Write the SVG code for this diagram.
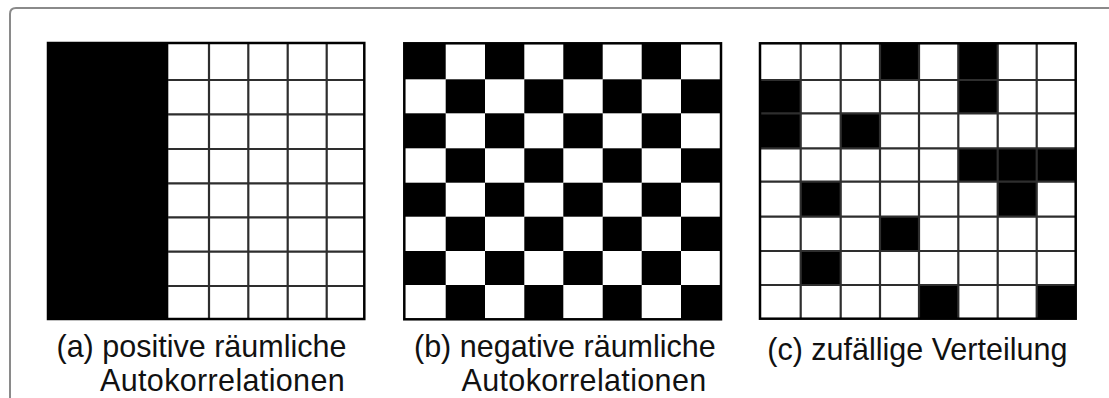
<svg xmlns="http://www.w3.org/2000/svg" width="1109" height="398" viewBox="0 0 1109 398">
  <style>
    .frame { fill: none; stroke: #8a8a8a; stroke-width: 2; }
    .cell { fill: #000; }
    .grid { fill: none; stroke: #2e2e2e; stroke-width: 2.2; }
    .border { fill: none; stroke: #000; stroke-width: 2.5; }
    .label { font-family: "Liberation Sans", Arial, sans-serif; font-size: 30.5px; fill: #111; }
    .wide { letter-spacing: 0.35px; }
  </style>
  <rect width="1109" height="398" fill="#fff"/>
  <!-- outer frame: left and top edges only -->
  <path class="frame" d="M10,398 V14 Q10,8 16,8 H1109"/>

  <!-- (a) positive spatial autocorrelation -->
  <g id="panel-a">
    <rect class="cell" x="48" y="43" width="120.3" height="276"/>
    <path class="grid" d="M209,43 V319 M248.3,43 V319 M287.7,43 V319 M326.7,43 V319
      M168,80 H364.3 M168,114.3 H364.3 M168,149 H364.3 M168,183.3 H364.3 M168,217.3 H364.3 M168,251.7 H364.3 M168,286 H364.3"/>
    <rect class="border" x="48" y="43" width="316.3" height="276"/>
    <text class="label" x="56.5" y="357">(a) positive räumliche</text>
    <text class="label wide" x="100" y="390.5">Autokorrelationen</text>
  </g>

  <!-- (b) negative spatial autocorrelation: checkerboard -->
  <g id="panel-b">
    <g class="cell">
      <rect x="404.3" y="43.3" width="41.4" height="36"/>
      <rect x="485" y="43.3" width="39.3" height="36"/>
      <rect x="563.3" y="43.3" width="39.4" height="36"/>
      <rect x="641.7" y="43.3" width="39.3" height="36"/>

      <rect x="445.7" y="79.3" width="39.3" height="34"/>
      <rect x="524.3" y="79.3" width="39" height="34"/>
      <rect x="602.7" y="79.3" width="39" height="34"/>
      <rect x="681" y="79.3" width="40" height="34"/>

      <rect x="404.3" y="113.3" width="41.4" height="35"/>
      <rect x="485" y="113.3" width="39.3" height="35"/>
      <rect x="563.3" y="113.3" width="39.4" height="35"/>
      <rect x="641.7" y="113.3" width="39.3" height="35"/>

      <rect x="445.7" y="148.3" width="39.3" height="34.4"/>
      <rect x="524.3" y="148.3" width="39" height="34.4"/>
      <rect x="602.7" y="148.3" width="39" height="34.4"/>
      <rect x="681" y="148.3" width="40" height="34.4"/>

      <rect x="404.3" y="182.7" width="41.4" height="34"/>
      <rect x="485" y="182.7" width="39.3" height="34"/>
      <rect x="563.3" y="182.7" width="39.4" height="34"/>
      <rect x="641.7" y="182.7" width="39.3" height="34"/>

      <rect x="445.7" y="216.7" width="39.3" height="34.3"/>
      <rect x="524.3" y="216.7" width="39" height="34.3"/>
      <rect x="602.7" y="216.7" width="39" height="34.3"/>
      <rect x="681" y="216.7" width="40" height="34.3"/>

      <rect x="404.3" y="251" width="41.4" height="34"/>
      <rect x="485" y="251" width="39.3" height="34"/>
      <rect x="563.3" y="251" width="39.4" height="34"/>
      <rect x="641.7" y="251" width="39.3" height="34"/>

      <rect x="445.7" y="285" width="39.3" height="34.3"/>
      <rect x="524.3" y="285" width="39" height="34.3"/>
      <rect x="602.7" y="285" width="39" height="34.3"/>
      <rect x="681" y="285" width="40" height="34.3"/>
    </g>
    <rect class="border" x="404.3" y="43.3" width="316.7" height="276"/>
    <text class="label" x="414" y="357">(b) negative räumliche</text>
    <text class="label wide" x="461.5" y="390.5">Autokorrelationen</text>
  </g>

  <!-- (c) random distribution -->
  <g id="panel-c">
    <g class="cell">
      <!-- row 0 -->
      <rect x="880" y="43.3" width="39" height="36.7"/>
      <rect x="958.3" y="43.3" width="39.4" height="70"/>
      <!-- rows 1-2, column 0 -->
      <rect x="760" y="80" width="40.7" height="68.3"/>
      <!-- row 2 -->
      <rect x="840.7" y="113.3" width="39.3" height="35"/>
      <!-- row 3 -->
      <rect x="958.3" y="148.3" width="117.4" height="33.4"/>
      <!-- row 4 -->
      <rect x="800.7" y="181.7" width="40" height="35"/>
      <rect x="997.7" y="181.7" width="39" height="35"/>
      <!-- row 5 -->
      <rect x="880" y="216.7" width="39" height="34.3"/>
      <!-- row 6 -->
      <rect x="800.7" y="251" width="40" height="34"/>
      <!-- row 7 -->
      <rect x="919" y="285" width="39.3" height="33.7"/>
      <rect x="1036.7" y="285" width="39" height="33.7"/>
    </g>
    <path class="grid" d="M800.7,43.3 V318.7 M840.7,43.3 V318.7 M880,43.3 V318.7 M919,43.3 V318.7 M958.3,43.3 V318.7 M997.7,43.3 V318.7 M1036.7,43.3 V318.7
      M760,80 H1075.7 M760,113.3 H1075.7 M760,148.3 H1075.7 M760,181.7 H1075.7 M760,216.7 H1075.7 M760,251 H1075.7 M760,285 H1075.7"/>
    <rect class="border" x="760" y="43.3" width="315.7" height="275.4"/>
    <text class="label" x="767.3" y="360">(c) zufällige Verteilung</text>
  </g>
</svg>
